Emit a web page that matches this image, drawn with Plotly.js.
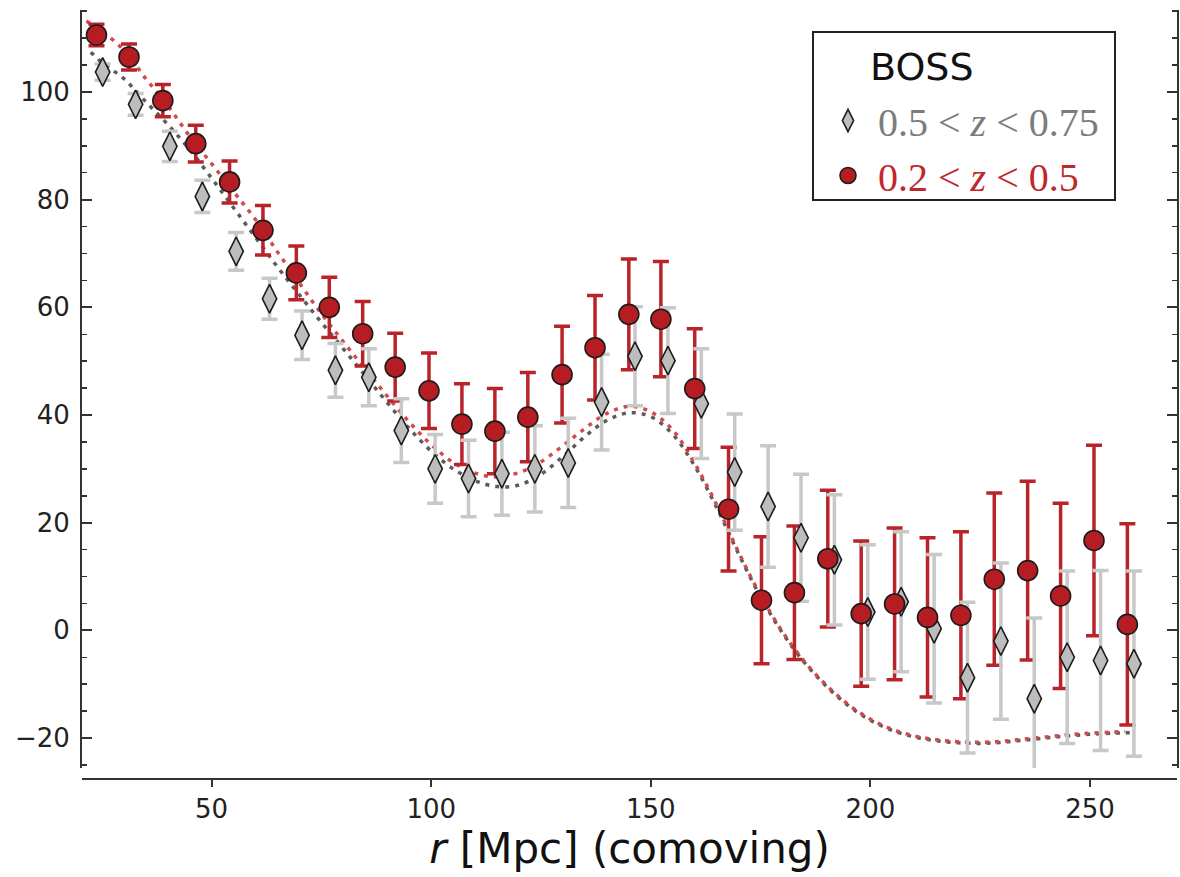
<!DOCTYPE html>
<html>
<head>
<meta charset="utf-8">
<script src="https://cdn.plot.ly/plotly-3.0.1.min.js"></script>
<style>
  html, body { margin: 0; padding: 0; background: #ffffff; }
  #chart { width: 1180px; height: 877px; }
</style>
</head>
<body>
<div id="chart"></div>
<script>
// ---- Data ----
// BOSS 0.2 < z < 0.5 (red circles)
const rLow = [23.8, 31.2, 38.9, 46.4, 54.1, 61.7, 69.3, 76.8, 84.4, 91.8, 99.5, 107.0, 114.5, 122.0, 129.8, 137.3,
              145.0, 152.3, 160.0, 167.7, 175.2, 182.7, 190.3, 197.9, 205.5, 213.0, 220.6, 228.2, 235.8, 243.3, 250.9, 258.5];
const xiLow = [110.6, 106.5, 98.4, 90.4, 83.3, 74.3, 66.4, 60.0, 55.1, 48.9, 44.5, 38.3, 37.0, 39.6, 47.5, 52.5,
               58.7, 57.8, 44.9, 22.5, 5.6, 7.0, 13.3, 3.1, 4.9, 2.4, 2.8, 9.5, 11.1, 6.4, 16.7, 1.1];
const errLow = [2.0, 2.4, 3.0, 3.4, 3.9, 4.6, 5.0, 5.6, 6.0, 6.3, 7.0, 7.5, 7.9, 8.3, 9.0, 9.7,
                10.3, 10.7, 11.1, 11.5, 11.8, 12.4, 12.7, 13.5, 14.1, 14.8, 15.5, 16.0, 16.6, 17.2, 17.7, 18.7];

// BOSS 0.5 < z < 0.75 (grey diamonds)
const rHigh = [25.2, 32.7, 40.5, 47.9, 55.6, 63.2, 70.6, 78.2, 85.8, 93.2, 100.9, 108.5, 116.1, 123.6, 131.2, 138.8,
               146.4, 153.9, 161.5, 169.1, 176.7, 184.2, 191.8, 199.4, 207.0, 214.5, 222.1, 229.7, 237.3, 244.8, 252.4, 260.0];
const xiHigh = [103.7, 97.7, 89.9, 80.6, 70.4, 61.6, 54.8, 48.3, 47.0, 37.1, 30.0, 28.2, 29.1, 30.0, 31.1, 42.4,
                50.9, 50.1, 42.1, 29.4, 23.0, 17.2, 13.1, 3.4, 5.3, 0.3, -8.8, -2.0, -12.7, -5.0, -5.6, -6.2];
const errHigh = [1.5, 2.0, 2.8, 3.0, 3.5, 3.8, 4.5, 5.0, 5.3, 5.9, 6.4, 7.1, 7.7, 8.0, 8.3, 8.9,
                 9.2, 9.8, 10.2, 10.8, 11.3, 11.8, 12.1, 12.5, 13.0, 13.8, 14.0, 14.5, 15.0, 16.0, 16.7, 17.2];

// Model curves (dotted)
const rModelLow = [21.5, 25, 30, 35, 40, 45, 50, 55, 60, 65, 70, 75, 80, 85, 90, 95, 100, 105, 110, 115, 120, 125,
                   130, 135, 140, 145, 150, 155, 160, 165, 170, 175, 180, 185, 190, 195, 200, 205, 210, 215, 220,
                   225, 230, 235, 240, 245, 250, 255, 258];
const xiModelLow = [113.2, 111.3, 107.8, 102.5, 97.5, 91.8, 86.7, 81.5, 76.3, 70.3, 64.5, 58.8, 53.6, 48.5, 43.5,
                    38.7, 34.5, 31.2, 29.2, 28.5, 29.3, 31.3, 34.3, 37.5, 40.3, 41.6, 40.6, 37.2, 31.0, 23.3, 14.5,
                    6.5, -0.3, -5.8, -10.2, -13.8, -16.5, -18.4, -19.6, -20.3, -20.7, -20.8, -20.6, -20.2, -19.8,
                    -19.4, -19.1, -18.9, -18.8];
const rModelHigh = [22.5, 25, 30, 35, 40, 45, 50, 55, 60, 65, 70, 75, 80, 85, 90, 95, 100, 105, 110, 115, 120, 125,
                    130, 135, 140, 145, 150, 155, 160, 165, 170, 175, 180, 185, 190, 195, 200, 205, 210, 215, 220,
                    225, 230, 235, 240, 245, 250, 255, 260];
const xiModelHigh = [107.4, 105.5, 102.5, 98.2, 94.0, 89.3, 84.0, 78.5, 73.0, 67.5, 62.3, 57.2, 52.3, 47.3, 42.3,
                     37.5, 33.3, 30.0, 27.8, 26.7, 27.0, 29.0, 32.3, 36.0, 39.0, 40.4, 39.7, 36.4, 30.5, 22.8, 14.2,
                     6.2, -0.5, -6.0, -10.4, -14.0, -16.7, -18.6, -19.8, -20.5, -20.9, -21.0, -20.8, -20.4, -20.0,
                     -19.6, -19.3, -19.1, -19.0];

const xTickVals = [50, 100, 150, 200, 250];
const yTickVals = [-20, 0, 20, 40, 60, 80, 100];
const nameLow = '<span style="color:#c0282e">\u00a00.2 &lt; <i>z</i> &lt; 0.5</span>';
const nameHigh = '<span style="color:#7c7c7c">\u00a00.5 &lt; <i>z</i> &lt; 0.75</span>';
const xTitle = '\u00a0\u00a0\u00a0<i>r</i> [Mpc] (comoving)';

// ---- Styles ----
const RED = '#b51d22';
const RED_BAR = '#b8242a';
const GREY_FILL = '#bdbdbd';
const GREY_BAR = '#c8c8c8';
const EDGE = '#1c1c1c';
const AX = '#333333';

const traces = [
  {
    x: rModelHigh, y: xiModelHigh, type: 'scatter', mode: 'lines', showlegend: false, hoverinfo: 'skip',
    line: { color: '#5c5c5c', width: 3.5, dash: '4px,6px', shape: 'spline' }
  },
  {
    x: rModelLow, y: xiModelLow, type: 'scatter', mode: 'lines', showlegend: false, hoverinfo: 'skip',
    line: { color: '#d24a4c', width: 3.5, dash: '4px,6px', shape: 'spline' }
  },
  {
    // red error bars (drawn beneath the grey diamonds)
    x: rLow, y: xiLow, type: 'scatter', mode: 'markers', showlegend: false, hoverinfo: 'skip',
    marker: { size: 1, opacity: 0 },
    error_y: { type: 'data', array: errLow, visible: true, color: RED_BAR, thickness: 3.5, width: 8 }
  },
  {
    x: rHigh, y: xiHigh, type: 'scatter', mode: 'markers', name: nameHigh,
    marker: { symbol: 'diamond-tall', size: 20.5, color: GREY_FILL, line: { color: EDGE, width: 1.6 } },
    error_y: { type: 'data', array: errHigh, visible: true, color: GREY_BAR, thickness: 3.5, width: 8 }
  },
  {
    x: rLow, y: xiLow, type: 'scatter', mode: 'markers', name: nameLow,
    marker: { symbol: 'circle', size: 20, color: RED, line: { color: EDGE, width: 1.6 } }
  }
];

// plot area: x 82..1177, y 10..779 (y axis domain ends at 768)
const L = 82, R = 1177, T = 10, B = 779;
const W = R - L, H = B - T;
const px = v => (v - L) / W;
const py = v => (B - v) / H;

const layout = {
  width: 1180, height: 877,
  margin: { l: L, r: 1180 - R, t: T, b: 877 - B, pad: 0 },
  paper_bgcolor: '#ffffff', plot_bgcolor: '#ffffff',
  font: { family: 'DejaVu Sans', color: '#222222' },
  showlegend: true,
  xaxis: {
    range: [20.5, 269.8], anchor: 'free', position: 0,
    showline: true, linecolor: AX, linewidth: 2,
    ticks: 'outside', ticklen: 7, tickwidth: 2, tickcolor: AX,
    tickmode: 'array', tickvals: xTickVals,
    showgrid: false, zeroline: false,
    tickfont: { family: 'DejaVu Sans', size: 26, color: '#222222' },
    title: { text: xTitle, font: { family: 'DejaVu Sans', size: 42, color: '#111111' }, standoff: 8 }
  },
  xaxis2: {
    overlaying: 'x', side: 'top', anchor: 'y', range: [20.5, 269.8],
    showline: true, linecolor: AX, linewidth: 2,
    ticks: 'inside', ticklen: 10, tickwidth: 2, tickcolor: AX,
    tick0: 51.4, dtick: 30.16,
    minor: { tick0: 51.4, dtick: 7.54, ticks: 'inside', ticklen: 5, tickwidth: 1.5, tickcolor: AX },
    showticklabels: false, showgrid: false, zeroline: false
  },
  yaxis: {
    domain: [11 / H, 1], range: [-25.57, 115.23],
    showline: true, linecolor: AX, linewidth: 2, mirror: 'ticks',
    ticks: 'inside', ticklen: 10, tickwidth: 2, tickcolor: AX,
    tickmode: 'array', tickvals: yTickVals,
    minor: { dtick: 5, ticks: 'inside', ticklen: 5, tickwidth: 1.5, tickcolor: AX },
    showgrid: false, zeroline: false,
    tickfont: { family: 'DejaVu Sans', size: 26, color: '#222222' },
    ticklabelstandoff: 5
  },
  legend: {
    x: px(828), y: py(88), xanchor: 'left', yanchor: 'top',
    bgcolor: 'rgba(0,0,0,0)', borderwidth: 0,
    font: { family: 'Liberation Serif', size: 40, color: '#333333' },
    traceorder: 'normal', itemsizing: 'trace'
  },
  shapes: [
    {
      type: 'rect', xref: 'paper', yref: 'paper', layer: 'below',
      x0: px(813), x1: px(1115), y0: py(200), y1: py(32),
      line: { color: '#222222', width: 2 }, fillcolor: '#ffffff'
    }
  ],
  annotations: [
    {
      text: 'BOSS', xref: 'paper', yref: 'paper', x: px(868), y: py(67),
      xanchor: 'left', yanchor: 'middle', showarrow: false,
      font: { family: 'DejaVu Sans', size: 38, color: '#111111' }
    }
  ]
};

Plotly.newPlot('chart', traces, layout, { displayModeBar: false, staticPlot: true });
</script>
</body>
</html>
